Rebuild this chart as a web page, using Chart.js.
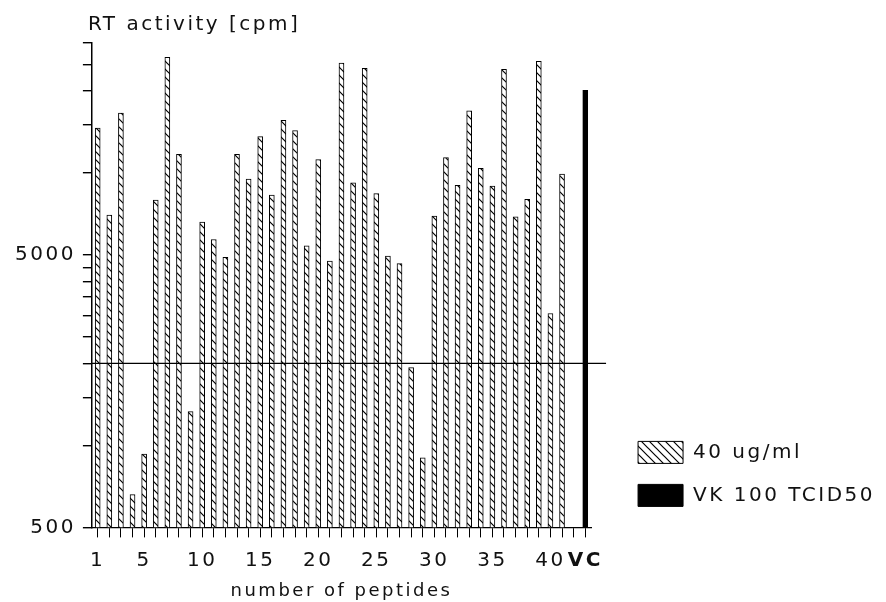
<!DOCTYPE html>
<html>
<head>
<meta charset="utf-8">
<script src="https://cdn.jsdelivr.net/npm/chart.js@4/dist/chart.umd.min.js"></script>
<style>
  html, body { margin: 0; padding: 0; background: #fff; }
  #wrap { width: 886px; height: 602px; }
</style>
</head>
<body>
<div id="wrap"><canvas id="myChart" width="886" height="602"></canvas></div>
<script>
var categories = ['1','2','3','4','5','6','7','8','9','10','11','12','13','14','15','16','17','18','19','20',
  '21','22','23','24','25','26','27','28','29','30','31','32','33','34','35','36','37','38','39','40','41','','VC'];
var tickLabels = ['1','5','10','15','20','25','30','35','40','VC'];
var peptideValues = [14600, 7000, 16600, 660, 930, 7950, 26600, 11700, 1330, 6600,
  5700, 4900, 11700, 9500, 13600, 8300, 15600, 14300, 5400, 11200,
  4750, 25300, 9200, 24200, 8400, 4950, 4650, 1930, 900, 6950,
  11400, 9000, 16900, 10400, 8950, 24000, 6900, 8000, 25700, 3050, 9900];
var vcValue = 20100;
var cutoff = 2000;
var yTicks = [500, 1000, 1500, 2000, 2500, 3000, 3500, 4000, 4500, 5000, 10000, 15000, 20000, 25000, 30000];
var yLabels = [500, 5000];

var FONT = 'DejaVu Sans';
var LS = '2.5px';
Chart.defaults.font.family = FONT;
Chart.defaults.font.size = 20;
Chart.defaults.color = '#111';

function makeHatch(){
    var c = document.createElement('canvas');
    c.width = 8; c.height = 8;
    var g = c.getContext('2d');
    g.fillStyle = '#fff';
    g.fillRect(0, 0, 8, 8);
    g.strokeStyle = '#000';
    g.lineWidth = 1.2;
    g.beginPath();
    g.moveTo(-1, -1); g.lineTo(9, 9);
    g.moveTo(-1, 7); g.lineTo(1, 9);
    g.moveTo(7, -1); g.lineTo(9, 1);
    g.stroke();
    return g.createPattern(c, 'repeat');
}

// wide lettering of the original
var spacing = {
    id: 'spacing',
    beforeUpdate: function(chart){ chart.ctx.letterSpacing = LS; },
    beforeLayout: function(chart){ chart.ctx.letterSpacing = LS; },
    beforeDraw: function(chart){ chart.ctx.letterSpacing = LS; }
};

var titleShift = {
    id: 'titleShift',
    afterLayout: function(chart){
        if(chart.titleBlock) chart.titleBlock.left = chart.chartArea.left - 4;
    }
};

var cutoffLine = {
    id: 'cutoffLine',
    afterDatasetsDraw: function(chart){
        var ctx = chart.ctx;
        var y = chart.scales.y.getPixelForValue(cutoff);
        ctx.save();
        ctx.strokeStyle = '#000';
        ctx.lineWidth = 1.4;
        ctx.beginPath();
        ctx.moveTo(chart.chartArea.left, y);
        ctx.lineTo(chart.chartArea.right + 15, y);
        ctx.stroke();
        ctx.restore();
    }
};

var ctx = document.getElementById('myChart').getContext('2d');
var myChart = new Chart(ctx, {
    type: 'bar',
    data: {
        labels: categories,
        datasets: [{
            label: '40 ug/ml',
            data: peptideValues,
            backgroundColor: makeHatch(),
            borderColor: '#000',
            borderWidth: 1,
            barThickness: 5,
            grouped: false
        }, {
            label: 'VK 100 TCID50',
            data: [{x: 'VC', y: vcValue}],
            backgroundColor: '#000',
            borderColor: '#000',
            borderWidth: 1,
            barThickness: 5,
            grouped: false
        }]
    },
    options: {
        responsive: false,
        animation: false,
        devicePixelRatio: 1,
        layout: { padding: { left: 8, right: 1, top: 0, bottom: 0 } },
        plugins: {
            title: {
                display: true,
                text: 'RT activity [cpm]',
                align: 'start',
                color: '#111',
                font: { family: FONT, size: 20, weight: 'normal' },
                padding: { top: 13, bottom: 6 }
            },
            legend: {
                position: 'right',
                align: 'end',
                fullSize: false,
                maxWidth: 320,
                labels: {
                    boxWidth: 45,
                    boxHeight: 22,
                    padding: 21,
                    color: '#111',
                    font: { family: FONT, size: 20 }
                }
            },
            tooltip: { enabled: false }
        },
        scales: {
            x: {
                offset: true,
                grid: { offset: false, drawOnChartArea: false, tickLength: 10, color: '#000', lineWidth: 1 },
                border: { display: true, color: '#000', width: 1.2 },
                ticks: {
                    autoSkip: false,
                    maxRotation: 0,
                    padding: 11,
                    color: '#111',
                    font: function(c){
                        var bold = c.tick && c.tick.label === 'VC';
                        return { family: FONT, size: 20, weight: bold ? 'bold' : 'normal' };
                    },
                    callback: function(value){
                        var lab = this.getLabelForValue(value);
                        return tickLabels.indexOf(lab) >= 0 ? lab : '';
                    }
                },
                title: {
                    display: true,
                    text: 'number of peptides',
                    color: '#111',
                    font: { family: FONT, size: 18 },
                    padding: { top: -3, bottom: 0 }
                }
            },
            y: {
                type: 'logarithmic',
                min: 500,
                max: 30000,
                afterBuildTicks: function(scale){
                    scale.ticks = yTicks.map(function(v){ return {value: v}; });
                },
                grid: { drawOnChartArea: false, tickLength: 9, color: '#000', lineWidth: 1.4 },
                border: { display: true, color: '#000', width: 1.5 },
                ticks: {
                    autoSkip: false,
                    padding: 7,
                    color: '#111',
                    font: { family: FONT, size: 20 },
                    callback: function(value){
                        return yLabels.indexOf(value) >= 0 ? String(value) : '';
                    }
                }
            },
            y2: {
                position: 'right',
                display: true,
                grid: { display: false },
                border: { display: false },
                ticks: { display: false },
                afterFit: function(scale){ scale.width = 26; }
            }
        }
    },
    plugins: [spacing, titleShift, cutoffLine]
});
</script>
</body>
</html>
